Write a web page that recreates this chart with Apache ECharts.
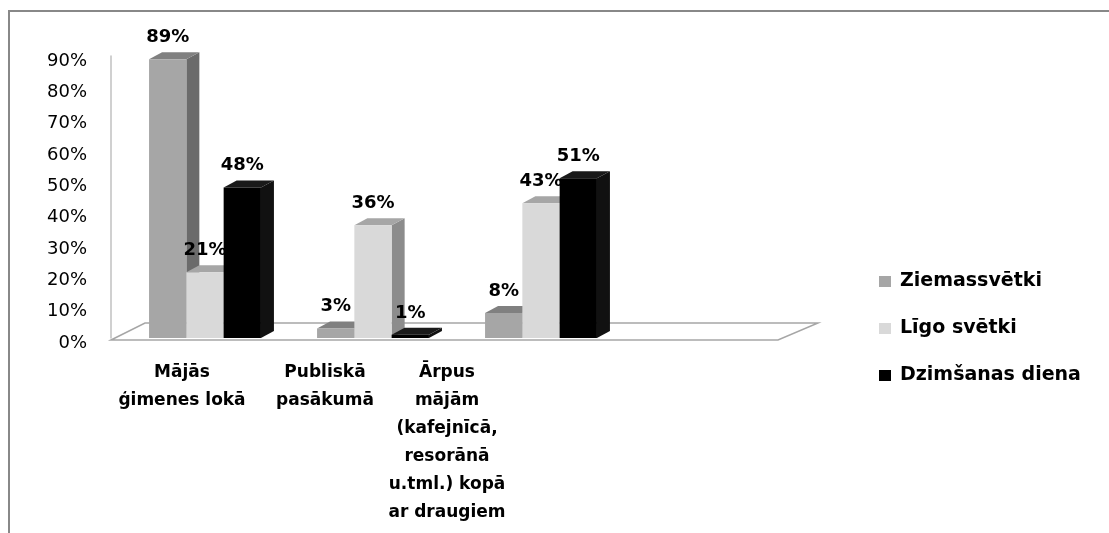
<!DOCTYPE html>
<html>
<head>
<meta charset="utf-8">
<script src="https://cdn.jsdelivr.net/npm/echarts@6/dist/echarts.min.js"></script>
<style>
  html, body { margin: 0; padding: 0; background: #fff; }
  #chart { width: 1109px; height: 533px; }
</style>
</head>
<body>
<div id="chart"></div>
<script>
const categories = [
  "Mājās\nģimenes lokā",
  "Publiskā\npasākumā",
  "Ārpus\nmājām\n(kafejnīcā,\nresorānā\nu.tml.) kopā\nar draugiem",
];
const seriesNames = ["Ziemassvētki", "Līgo svētki", "Dzimšanas diena"];
const ziemassvetki = [89, 3, 8];
const ligo = [21, 36, 43];
const dzimsanas = [48, 1, 51];
const yTicks = [0, 10, 20, 30, 40, 50, 60, 70, 80, 90];

// front / top / side shades for the fake 3d look
const shades = [
  { front: "#a6a6a6", top: "#808080", side: "#6b6b6b" },
  { front: "#d9d9d9", top: "#a6a6a6", side: "#8c8c8c" },
  { front: "#000000", top: "#1a1a1a", side: "#111111" },
];
const labelShift = [46, 96, 188];
const font = "DejaVu Sans";

const myChart = echarts.init(document.getElementById("chart"));

const makeSeries = (name, data, i) => ({
  name: name,
  type: "custom",
  z: 3,
  itemStyle: { color: shades[i].front },
  data: data.map((v, k) => [k, v]),
  renderItem: (params, api) => {
    const idx = api.value(0);
    const val = api.value(1);
    const top = api.coord([idx, val]);
    const base = api.coord([idx, 0]);
    const bw = api.size([1, 0])[0] * 0.222;
    const dx = 13, dy = -7;
    const x0 = top[0] + (i - 1.5) * bw;
    const x1 = x0 + bw;
    const ty = top[1], by = base[1];
    return {
      type: "group",
      children: [
        {
          type: "polygon",
          shape: { points: [[x1, ty], [x1 + dx, ty + dy], [x1 + dx, by + dy], [x1, by]] },
          style: { fill: shades[i].side },
        },
        {
          type: "polygon",
          shape: { points: [[x0, ty], [x0 + dx, ty + dy], [x1 + dx, ty + dy], [x1, ty]] },
          style: { fill: shades[i].top },
        },
        {
          type: "rect",
          shape: { x: x0, y: ty, width: bw, height: by - ty },
          style: { fill: shades[i].front },
        },
        {
          type: "text",
          z2: 10,
          style: {
            x: x0 + bw / 2,
            y: ty - 22,
            text: val + "%",
            align: "center",
            verticalAlign: "middle",
            fontFamily: font,
            fontWeight: "bold",
            fontSize: 18,
            fill: "#000",
          },
        },
      ],
    };
  },
});

const option = {
  animation: false,
  textStyle: { fontFamily: font },
  graphic: [
    {
      type: "rect",
      z: 0,
      shape: { x: 9, y: 11, width: 1200, height: 700 },
      style: { fill: "none", stroke: "#888", lineWidth: 2 },
    },
    {
      type: "polygon",
      z: 1,
      shape: { points: [[111, 340], [145, 323], [818, 323], [778, 340]] },
      style: { fill: "#fff", stroke: "#a6a6a6", lineWidth: 1.5 },
    },
  ],
  legend: {
    orient: "vertical",
    left: 874,
    top: 267,
    itemGap: 28,
    itemWidth: 12,
    itemHeight: 11,
    icon: "rect",
    data: seriesNames,
    textStyle: {
      fontFamily: font,
      fontWeight: "bold",
      fontSize: 19,
      color: "#000",
      padding: [0, 0, 0, 4],
    },
  },
  grid: { left: 121, right: 484, top: 56, bottom: 195 },
  xAxis: {
    type: "category",
    data: categories.map((c, k) => ({
      value: c,
      textStyle: { padding: [0, labelShift[k], 0, 0] },
    })),
    axisLine: { show: false },
    axisTick: { show: false },
    axisLabel: {
      interval: 0,
      margin: 21,
      fontFamily: font,
      fontWeight: "bold",
      fontSize: 17,
      lineHeight: 28,
      color: "#000",
    },
  },
  yAxis: {
    type: "value",
    min: yTicks[0],
    max: yTicks[yTicks.length - 1],
    interval: 10,
    offset: 10,
    splitLine: { show: false },
    axisTick: { show: false },
    axisLine: { show: true, lineStyle: { color: "#c0c0c0", width: 1.5 } },
    axisLabel: {
      formatter: "{value}%",
      margin: 24,
      verticalAlign: "top",
      lineHeight: 10,
      fontFamily: font,
      fontSize: 18,
      color: "#000",
    },
  },
  series: [
    makeSeries(seriesNames[0], ziemassvetki, 0),
    makeSeries(seriesNames[1], ligo, 1),
    makeSeries(seriesNames[2], dzimsanas, 2),
  ],
};

option && myChart.setOption(option);
</script>
</body>
</html>
